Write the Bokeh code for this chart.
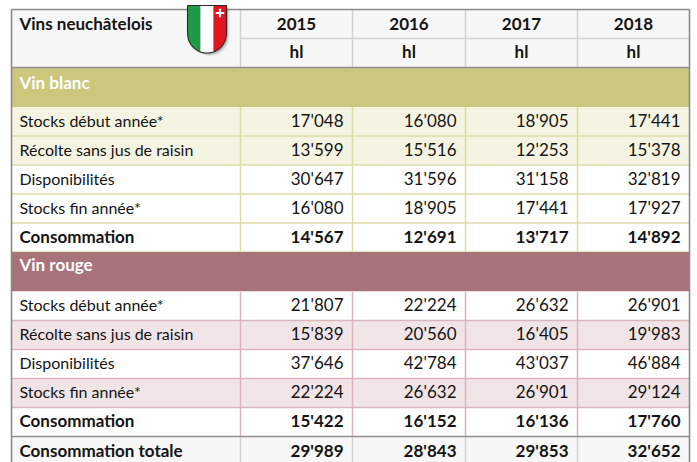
from bokeh.plotting import figure
from bokeh.models import Range1d, ColumnDataSource
from bokeh.core.properties import value
from bokeh.embed import file_html
from bokeh.resources import INLINE
import numpy as np

# ---------------- data ----------------
title = "Vins neuchâtelois"
years = ["2015", "2016", "2017", "2018"]
unit = "hl"
section_names = ["Vin blanc", "Vin rouge"]
row_labels = ["Stocks début année*", "Récolte sans jus de raisin",
              "Disponibilités", "Stocks fin année*", "Consommation"]

blanc_stocks_debut = [17048, 16080, 18905, 17441]
blanc_recolte = [13599, 15516, 12253, 15378]
blanc_disponibilites = [30647, 31596, 31158, 32819]
blanc_stocks_fin = [16080, 18905, 17441, 17927]
blanc_consommation = [14567, 12691, 13717, 14892]

rouge_stocks_debut = [21807, 22224, 26632, 26901]
rouge_recolte = [15839, 20560, 16405, 19983]
rouge_disponibilites = [37646, 42784, 43037, 46884]
rouge_stocks_fin = [22224, 26632, 26901, 29124]
rouge_consommation = [15422, 16152, 16136, 17760]

total_label = "Consommation totale"
total_consommation = [29989, 28843, 29853, 32652]

blanc_rows = [blanc_stocks_debut, blanc_recolte, blanc_disponibilites,
              blanc_stocks_fin, blanc_consommation]
rouge_rows = [rouge_stocks_debut, rouge_recolte, rouge_disponibilites,
              rouge_stocks_fin, rouge_consommation]


def fmt(v):
    return f"{v:,}".replace(",", "'")


# ---------------- layout / style ----------------
FONT = value("Lato")
FS = "16px"
FSN = "17px"
FSB = "17px"
TXT = "#141414"
col_edges = [11, 240, 352, 465, 577, 689]
header_top, header_mid, header_bot = 9, 38, 67
band_h, row_h = 39.5, 29.0
pad_l, pad_r = 8, 9
mid_off = 13.2

sections = [
    dict(name=section_names[0], rows=blanc_rows, band="#cbc87e", toff=15.0,
         fills=["#f5f4e2", "#f5f4e2", "#ffffff", "#ffffff", "#ffffff"],
         line="#dedba8"),
    dict(name=section_names[1], rows=rouge_rows, band="#a9737b", toff=12.5,
         fills=["#ffffff", "#f0e4e6", "#ffffff", "#f0e4e6", "#ffffff"],
         line="#d9b6bb"),
]

p = figure(width=697, height=462, x_range=Range1d(0, 697),
           y_range=Range1d(462, 0), output_backend="svg",
           toolbar_location=None, min_border=0,
           x_axis_location=None, y_axis_location=None)
p.grid.visible = False
p.outline_line_color = None
p.background_fill_color = "white"
p.border_fill_color = "white"

L, R = col_edges[0], col_edges[-1]

# header
p.quad(left=L, right=R, top=header_top, bottom=header_bot,
       fill_color="#f7f7f7", line_color=None)
p.segment(x0=col_edges[1:-1], y0=[header_top] * 4, x1=col_edges[1:-1],
          y1=[header_bot] * 4, line_color="#d2d2d2", line_width=1.5)
p.segment(x0=[col_edges[1]], y0=[header_mid], x1=[R], y1=[header_mid],
          line_color="#d2d2d2", line_width=1.5)

label_src = dict(x=[], y=[], t=[])
label_bold = dict(x=[], y=[], t=[])
num_src = dict(x=[], y=[], t=[])
num_bold = dict(x=[], y=[], t=[])
band_txt = dict(x=[], y=[], t=[])

y = header_bot
for s in sections:
    p.quad(left=L, right=R, top=y, bottom=y + band_h,
           fill_color=s["band"], line_color=None)
    band_txt["x"].append(L + pad_l)
    band_txt["y"].append(y + s["toff"])
    band_txt["t"].append(s["name"])
    y += band_h
    sec_top = y
    for i, (lab, vals) in enumerate(zip(row_labels, s["rows"])):
        p.quad(left=L, right=R, top=y, bottom=y + row_h,
               fill_color=s["fills"][i], line_color=None)
        bold = (i == len(row_labels) - 1)
        tgt = label_bold if bold else label_src
        tgt["x"].append(L + pad_l)
        tgt["y"].append(y + mid_off)
        tgt["t"].append(lab)
        ntgt = num_bold if bold else num_src
        for j, v in enumerate(vals):
            ntgt["x"].append(col_edges[j + 2] - pad_r)
            ntgt["y"].append(y + mid_off)
            ntgt["t"].append(fmt(v))
        y += row_h
    hy = [sec_top + k * row_h for k in range(1, len(row_labels))]
    p.segment(x0=[L] * len(hy), y0=hy, x1=[R] * len(hy), y1=hy,
              line_color=s["line"], line_width=1.5)
    p.segment(x0=col_edges[1:-1], y0=[sec_top] * 4, x1=col_edges[1:-1],
              y1=[y] * 4, line_color=s["line"], line_width=1.5)
    if s is sections[0]:
        p.segment(x0=[L], y0=[y], x1=[R], y1=[y], line_color=s["line"],
                  line_width=1.5)

# total row
tot_top = y
p.quad(left=L, right=R, top=tot_top, bottom=tot_top + 40,
       fill_color="#f7f7f7", line_color=None)
p.segment(x0=col_edges[1:-1], y0=[tot_top] * 4, x1=col_edges[1:-1],
          y1=[tot_top + 40] * 4, line_color="#d4d4d4", line_width=1.5)
p.segment(x0=[L], y0=[tot_top], x1=[R], y1=[tot_top],
          line_color="#8e8e8e", line_width=1.6)
label_bold["x"].append(L + pad_l)
label_bold["y"].append(tot_top + mid_off + 1)
label_bold["t"].append(total_label)
for j, v in enumerate(total_consommation):
    num_bold["x"].append(col_edges[j + 2] - pad_r)
    num_bold["y"].append(tot_top + mid_off + 1)
    num_bold["t"].append(fmt(v))

# header bottom line and outer border
p.segment(x0=[L], y0=[header_bot], x1=[R], y1=[header_bot],
          line_color="#8e8e8e", line_width=1.6)
p.segment(x0=[L, R, L], y0=[header_top, header_top, header_top],
          x1=[L, R, R], y1=[tot_top + 40, tot_top + 40, header_top],
          line_color="#8a8a8a", line_width=1.6)

# header texts
p.text(x=[L + pad_l], y=[23], text=[title], text_font=FONT,
       text_font_size=FSB, text_font_style="bold", text_color=TXT,
       text_align="left", text_baseline="middle")
centers = [(col_edges[j + 1] + col_edges[j + 2]) / 2 for j in range(4)]
p.text(x=centers, y=[23] * 4, text=years, text_font=FONT,
       text_font_size=FSB, text_font_style="bold", text_color=TXT,
       text_align="center", text_baseline="middle")
p.text(x=centers, y=[51] * 4, text=[unit] * 4, text_font=FONT,
       text_font_size=FSB, text_font_style="bold", text_color=TXT,
       text_align="center", text_baseline="middle")

p.text(x="x", y="y", text="t", source=ColumnDataSource(band_txt),
       text_font=FONT, text_font_size=FSB, text_font_style="bold",
       text_color="white", text_align="left", text_baseline="middle")
p.text(x="x", y="y", text="t", source=ColumnDataSource(label_src),
       text_font=FONT, text_font_size=FS, text_color=TXT,
       text_align="left", text_baseline="middle")
p.text(x="x", y="y", text="t", source=ColumnDataSource(label_bold),
       text_font=FONT, text_font_size=FSB, text_font_style="bold",
       text_color=TXT, text_align="left", text_baseline="middle")
p.text(x="x", y="y", text="t", source=ColumnDataSource(num_src),
       text_font=FONT, text_font_size=FSN, text_color=TXT,
       text_align="right", text_baseline="middle")
p.text(x="x", y="y", text="t", source=ColumnDataSource(num_bold),
       text_font=FONT, text_font_size=FSB, text_font_style="bold",
       text_color=TXT, text_align="right", text_baseline="middle")

# ---------------- Neuchâtel shield ----------------
fx0, fx1, ftop, fmid, fbot = 187.0, 226.0, 5.0, 33.0, 52.5
fxc, fhw = (fx0 + fx1) / 2, (fx1 - fx0) / 2


def ybottom(x):
    t = np.clip((x - fxc) / fhw, -1, 1)
    return fmid + (fbot - fmid) * np.sqrt(1 - t ** 2)


xs_b = np.linspace(fx1, fx0, 60)
out_x = [fx0, fx1] + list(xs_b)
out_y = [ftop, ftop] + list(ybottom(xs_b))
for off, a in [(3.0, 0.10), (2.0, 0.18), (1.2, 0.22)]:
    p.patch(x=[v + off for v in out_x], y=[v + off for v in out_y],
            fill_color="#555555", fill_alpha=a, line_color=None)
stripe_cols = ["#1f9a48", "#ffffff", "#e2161f"]
edges = np.linspace(fx0, fx1, 4)
for k in range(3):
    xa, xb = edges[k], edges[k + 1]
    xx = np.linspace(xb, xa, 20)
    p.patch(x=[xa, xb] + list(xx), y=[ftop, ftop] + list(ybottom(xx)),
            fill_color=stripe_cols[k], line_color=None)
cxc, cyc, arm, th = fx1 - 6.5, ftop + 7.5, 4.2, 1.1
p.quad(left=[cxc - arm, cxc - th], right=[cxc + arm, cxc + th],
       top=[cyc - th, cyc - arm], bottom=[cyc + th, cyc + arm],
       fill_color="white", line_color=None)
p.line(x=out_x + [fx0], y=out_y + [ftop], line_color="#2a2a2a",
       line_width=1.1)

open("out.html", "w").write(file_html(p, INLINE))
